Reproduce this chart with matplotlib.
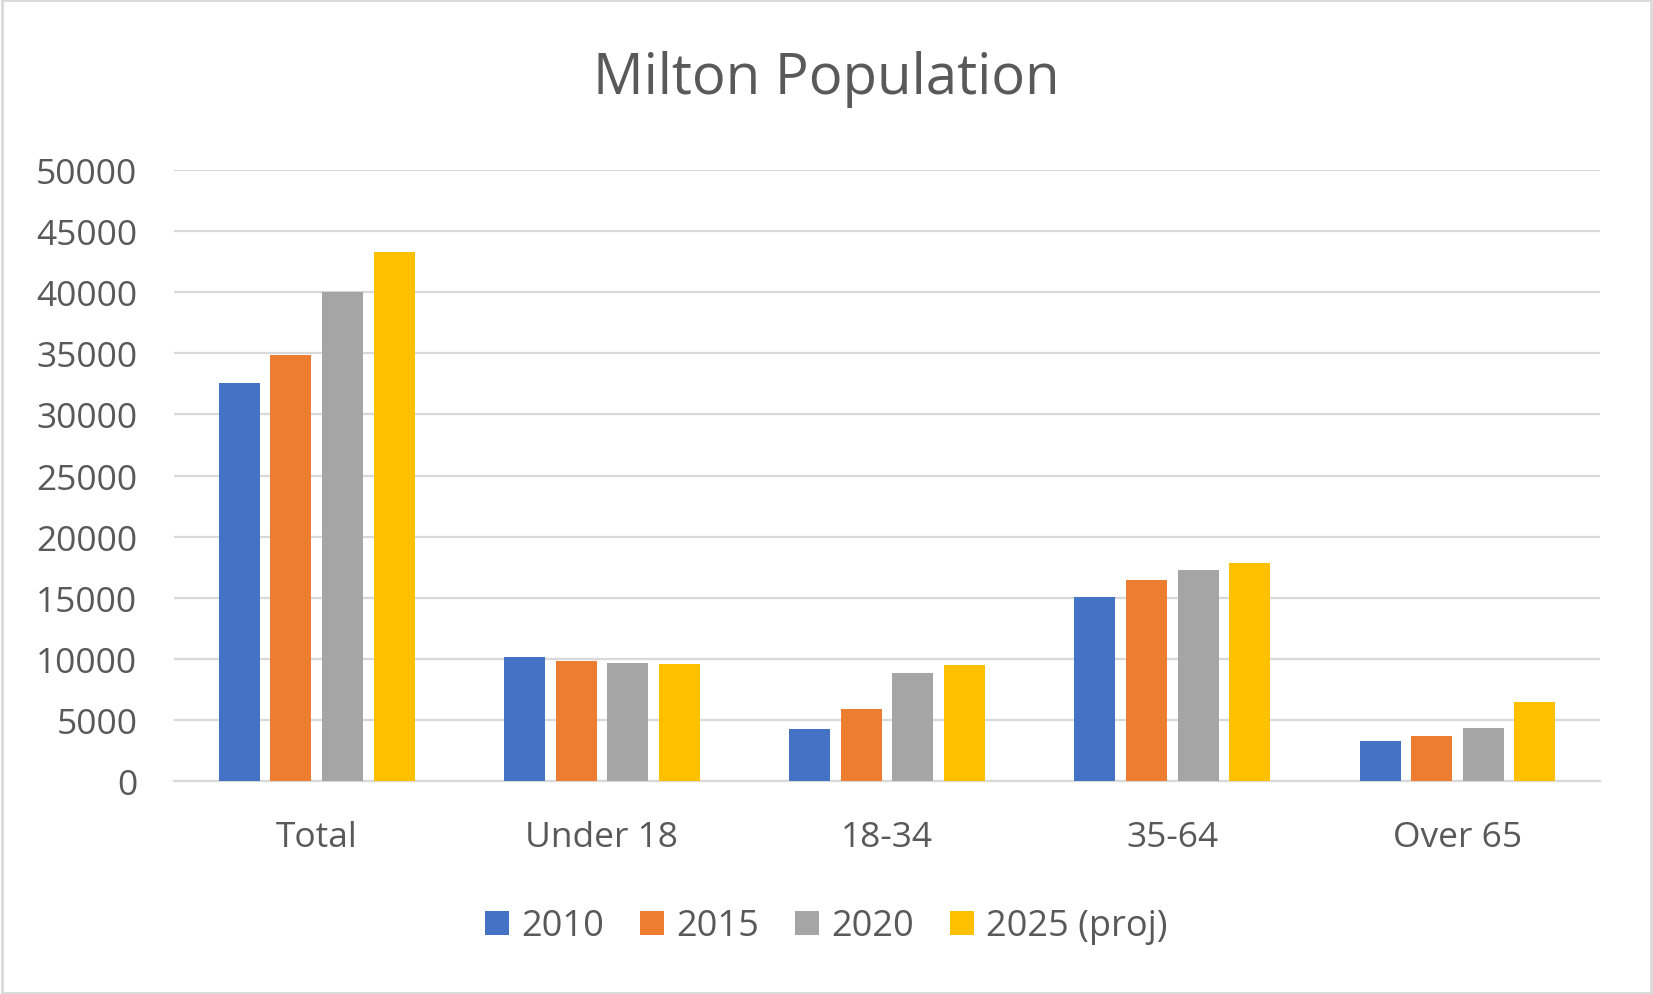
import matplotlib
matplotlib.use("Agg")
import matplotlib.pyplot as plt
from matplotlib.patches import Rectangle
import numpy as np

categories = ["Total", "Under 18", "18-34", "35-64", "Over 65"]
series_names = ["2010", "2015", "2020", "2025 (proj)"]
values_2010 = [32600, 10130, 4290, 15030, 3290]
values_2015 = [34900, 9800, 5850, 16420, 3700]
values_2020 = [40000, 9620, 8820, 17230, 4350]
values_2025 = [43300, 9560, 9480, 17880, 6470]
colors = ["#4472C4", "#ED7D31", "#A5A5A5", "#FFC000"]
yticks = [0, 5000, 10000, 15000, 20000, 25000, 30000, 35000, 40000, 45000, 50000]

plt.rcParams['font.family'] = ['Open Sans', 'DejaVu Sans']
text_color = "#595959"
grid_color = "#D9D9D9"

fig = plt.figure(figsize=(16.53, 9.95), dpi=100)
ax = fig.add_axes([0.1053, 0.2141, 0.968 - 0.1053, 0.8281 - 0.2141])

all_series = [values_2010, values_2015, values_2020, values_2025]
x = np.arange(len(categories))
step = 0.181
width = 0.144
offsets = [-1.5 * step, -0.5 * step, 0.5 * step, 1.5 * step]
for vals, name, col, off in zip(all_series, series_names, colors, offsets):
    ax.bar(x + off, vals, width=width, color=col, label=name, zorder=3)

ax.set_xlim(-0.5, len(categories) - 0.5)
ax.set_ylim(0, 50000)
ax.set_yticks(yticks)
ax.set_yticklabels([str(t) for t in yticks])
ax.set_xticks(x)
ax.set_xticklabels(categories)
ax.yaxis.grid(True, color=grid_color, linewidth=1.6, zorder=0)
ax.set_axisbelow(True)
for s in ["top", "right", "left"]:
    ax.spines[s].set_visible(False)
ax.spines["bottom"].set_color(grid_color)
ax.spines["bottom"].set_linewidth(1.6)
ax.tick_params(axis="both", length=0, labelsize=25.5, labelcolor=text_color)
ax.tick_params(axis="y", pad=26.5)
ax.tick_params(axis="x", pad=28)

fig.text(0.5, 0.92, "Milton Population", ha="center", va="center",
         fontsize=40.5, color=text_color)

leg = fig.legend(loc="center", bbox_to_anchor=(0.5, 0.068), ncol=4, frameon=False,
                 fontsize=26, handlelength=0.65, handleheight=0.65, handletextpad=0.35,
                 columnspacing=1.0, labelcolor=text_color)

fig.patches.append(Rectangle((0.001, 0.001), 0.998, 0.998, transform=fig.transFigure,
                             fill=False, edgecolor=grid_color, linewidth=2))

fig.savefig("out.png", dpi=100, facecolor="white")
